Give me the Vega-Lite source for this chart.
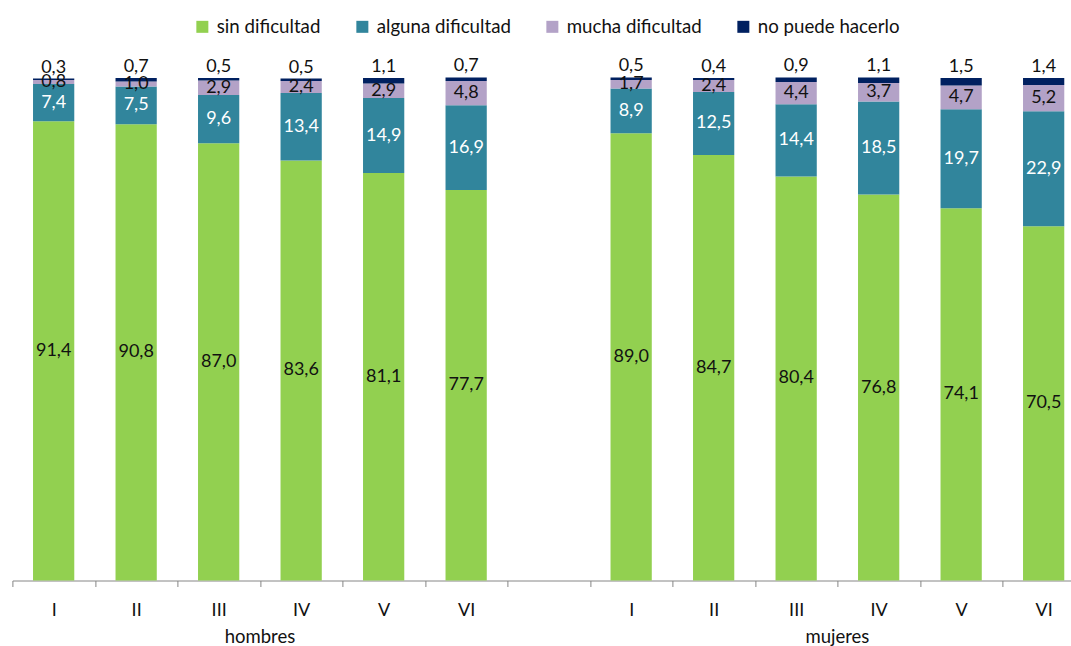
{
  "$schema": "https://vega.github.io/schema/vega-lite/v6.json",
  "width": 1058.6,
  "height": 502.5,
  "autosize": {"type": "none"},
  "padding": {"left": 12.4, "top": 78, "right": 0, "bottom": 65.5},
  "background": "white",
  "config": {
    "view": {"stroke": null},
    "font": "Lato",
    "locale": {"number": {"decimal": ",", "thousands": ".", "grouping": [3], "currency": ["", " €"]}}
  },
  "resolve": {"scale": {"x": "independent"}},
  "layer": [
    {
      "data": {"values": [
        {"barra": "hombres I", "cat": "sin dificultad", "v": 91.4},
        {"barra": "hombres I", "cat": "alguna dificultad", "v": 7.4},
        {"barra": "hombres I", "cat": "mucha dificultad", "v": 0.8},
        {"barra": "hombres I", "cat": "no puede hacerlo", "v": 0.3},
        {"barra": "hombres II", "cat": "sin dificultad", "v": 90.8},
        {"barra": "hombres II", "cat": "alguna dificultad", "v": 7.5},
        {"barra": "hombres II", "cat": "mucha dificultad", "v": 1.0},
        {"barra": "hombres II", "cat": "no puede hacerlo", "v": 0.7},
        {"barra": "hombres III", "cat": "sin dificultad", "v": 87.0},
        {"barra": "hombres III", "cat": "alguna dificultad", "v": 9.6},
        {"barra": "hombres III", "cat": "mucha dificultad", "v": 2.9},
        {"barra": "hombres III", "cat": "no puede hacerlo", "v": 0.5},
        {"barra": "hombres IV", "cat": "sin dificultad", "v": 83.6},
        {"barra": "hombres IV", "cat": "alguna dificultad", "v": 13.4},
        {"barra": "hombres IV", "cat": "mucha dificultad", "v": 2.4},
        {"barra": "hombres IV", "cat": "no puede hacerlo", "v": 0.5},
        {"barra": "hombres V", "cat": "sin dificultad", "v": 81.1},
        {"barra": "hombres V", "cat": "alguna dificultad", "v": 14.9},
        {"barra": "hombres V", "cat": "mucha dificultad", "v": 2.9},
        {"barra": "hombres V", "cat": "no puede hacerlo", "v": 1.1},
        {"barra": "hombres VI", "cat": "sin dificultad", "v": 77.7},
        {"barra": "hombres VI", "cat": "alguna dificultad", "v": 16.9},
        {"barra": "hombres VI", "cat": "mucha dificultad", "v": 4.8},
        {"barra": "hombres VI", "cat": "no puede hacerlo", "v": 0.7},
        {"barra": "mujeres I", "cat": "sin dificultad", "v": 89.0},
        {"barra": "mujeres I", "cat": "alguna dificultad", "v": 8.9},
        {"barra": "mujeres I", "cat": "mucha dificultad", "v": 1.7},
        {"barra": "mujeres I", "cat": "no puede hacerlo", "v": 0.5},
        {"barra": "mujeres II", "cat": "sin dificultad", "v": 84.7},
        {"barra": "mujeres II", "cat": "alguna dificultad", "v": 12.5},
        {"barra": "mujeres II", "cat": "mucha dificultad", "v": 2.4},
        {"barra": "mujeres II", "cat": "no puede hacerlo", "v": 0.4},
        {"barra": "mujeres III", "cat": "sin dificultad", "v": 80.4},
        {"barra": "mujeres III", "cat": "alguna dificultad", "v": 14.4},
        {"barra": "mujeres III", "cat": "mucha dificultad", "v": 4.4},
        {"barra": "mujeres III", "cat": "no puede hacerlo", "v": 0.9},
        {"barra": "mujeres IV", "cat": "sin dificultad", "v": 76.8},
        {"barra": "mujeres IV", "cat": "alguna dificultad", "v": 18.5},
        {"barra": "mujeres IV", "cat": "mucha dificultad", "v": 3.7},
        {"barra": "mujeres IV", "cat": "no puede hacerlo", "v": 1.1},
        {"barra": "mujeres V", "cat": "sin dificultad", "v": 74.1},
        {"barra": "mujeres V", "cat": "alguna dificultad", "v": 19.7},
        {"barra": "mujeres V", "cat": "mucha dificultad", "v": 4.7},
        {"barra": "mujeres V", "cat": "no puede hacerlo", "v": 1.5},
        {"barra": "mujeres VI", "cat": "sin dificultad", "v": 70.5},
        {"barra": "mujeres VI", "cat": "alguna dificultad", "v": 22.9},
        {"barra": "mujeres VI", "cat": "mucha dificultad", "v": 5.2},
        {"barra": "mujeres VI", "cat": "no puede hacerlo", "v": 1.4}
      ]},
      "transform": [
        {"calculate": "indexof(['sin dificultad','alguna dificultad','mucha dificultad','no puede hacerlo'], datum.cat)", "as": "orden"},
        {"stack": "v", "groupby": ["barra"], "sort": [{"field": "orden", "order": "ascending"}], "as": ["y0", "y1"]},
        {"calculate": "(datum.y0 + datum.y1) / 2", "as": "mid"}
      ],
      "encoding": {
        "x": {
          "field": "barra",
          "type": "nominal",
          "sort": null,
          "scale": {
            "type": "band",
            "domain": ["hombres I", "hombres II", "hombres III", "hombres IV", "hombres V", "hombres VI", "hueco", "mujeres I", "mujeres II", "mujeres III", "mujeres IV", "mujeres V", "mujeres VI"],
            "range": [0, 1072.5],
            "paddingInner": 0,
            "paddingOuter": 0
          },
          "axis": {
            "title": null,
            "labelExpr": "datum.value == 'hueco' ? '' : split(datum.value, ' ')[1]",
            "tickBand": "extent",
            "labelAngle": 0,
            "domainColor": "#868686",
            "tickColor": "#868686",
            "tickSize": 6,
            "labelPadding": 15,
            "labelFont": "Lato",
            "labelFontSize": 18,
            "labelColor": "#111111",
            "grid": false
          }
        }
      },
      "layer": [
        {
          "mark": {"type": "bar", "width": {"band": 0.5}},
          "encoding": {
            "y": {"field": "y0", "type": "quantitative", "scale": {"domain": [0, 100]}, "axis": null},
            "y2": {"field": "y1"},
            "color": {
              "field": "cat",
              "type": "nominal",
              "scale": {
                "domain": ["sin dificultad", "alguna dificultad", "mucha dificultad", "no puede hacerlo"],
                "range": ["#92D050", "#31859C", "#B3A2C7", "#002060"]
              },
              "legend": {
                "orient": "none",
                "legendX": 180.6,
                "legendY": -61,
                "direction": "horizontal",
                "title": null,
                "symbolType": "square",
                "symbolSize": 144,
                "symbolStrokeWidth": 0,
                "symbolOpacity": 1,
                "labelFont": "Lato",
                "labelFontSize": 18.7,
                "labelColor": "#111111",
                "columnPadding": 32,
                "labelOffset": 5,
                "padding": 0
              }
            }
          }
        },
        {
          "transform": [{"filter": "datum.cat !== 'no puede hacerlo'"}],
          "mark": {"type": "text", "font": "Lato", "fontSize": 18, "baseline": "middle", "align": "center"},
          "encoding": {
            "y": {"field": "mid", "type": "quantitative", "scale": {"domain": [0, 100]}, "axis": null},
            "text": {"field": "v", "type": "quantitative", "format": ".1f"},
            "color": {"condition": {"test": "datum.cat === 'alguna dificultad'", "value": "white"}, "value": "#111111"}
          }
        },
        {
          "transform": [{"filter": "datum.cat === 'no puede hacerlo'"}],
          "mark": {"type": "text", "font": "Lato", "fontSize": 18, "baseline": "alphabetic", "align": "center", "dy": -6, "color": "#111111"},
          "encoding": {
            "y": {"field": "y1", "type": "quantitative", "scale": {"domain": [0, 100]}, "axis": null},
            "text": {"field": "v", "type": "quantitative", "format": ".1f"}
          }
        }
      ]
    },
    {
      "data": {"values": [{"grupo": "hombres"}, {"grupo": "mujeres"}]},
      "mark": {"type": "text", "font": "Lato", "fontSize": 18.5, "baseline": "alphabetic", "align": "center", "color": "#111111"},
      "encoding": {
        "x": {
          "field": "grupo",
          "type": "nominal",
          "scale": {"type": "band", "domain": ["hombres", "mujeres"], "range": [0, 1072.5], "paddingInner": 0.142857, "paddingOuter": 0},
          "axis": null
        },
        "y": {"datum": -12.44, "scale": {"domain": [0, 100]}, "axis": null},
        "text": {"field": "grupo"}
      }
    }
  ]
}
